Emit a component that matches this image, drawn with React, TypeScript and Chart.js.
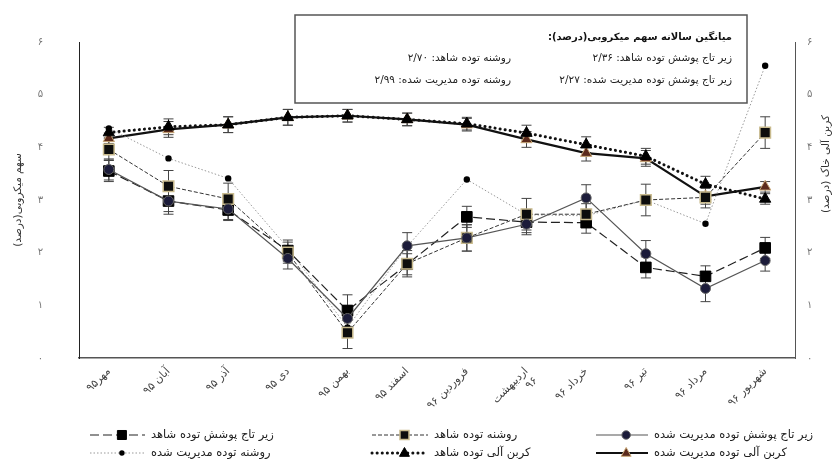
import React, { useEffect, useRef } from "react";
import { Chart, registerables } from "chart.js";

Chart.register(...registerables);

const FONT = '"DejaVu Sans", sans-serif';

const months = [
  "مهر۹۵",
  "آبان ۹۵",
  "آذر ۹۵",
  "دی ۹۵",
  "بهمن ۹۵",
  "اسفند ۹۵",
  "فروردین ۹۶",
  ["اردیبهشت", "۹۶"],
  "خرداد ۹۶",
  "تیر ۹۶",
  "مرداد ۹۶",
  "شهریور ۹۶",
];

const managedCanopy = [3.58, 2.98, 2.83, 1.89, 0.75, 2.13, 2.28, 2.54, 3.04, 1.98, 1.32, 1.85];
const controlGap = [3.96, 3.26, 3.02, 2.0, 0.48, 1.79, 2.28, 2.73, 2.73, 3.0, 3.05, 4.28];
const controlCanopy = [3.55, 2.98, 2.81, 2.04, 0.9, 1.78, 2.68, 2.58, 2.57, 1.72, 1.55, 2.09];
const managedGap = [4.36, 3.79, 3.41, 2.09, 0.58, 2.12, 3.39, 2.72, 2.7, 3.0, 2.55, 5.55];
const controlCarbon = [4.28, 4.39, 4.43, 4.57, 4.6, 4.53, 4.45, 4.27, 4.05, 3.83, 3.3, 3.02];
const managedCarbon = [4.17, 4.34, 4.43, 4.57, 4.6, 4.53, 4.43, 4.15, 3.89, 3.79, 3.07, 3.25];

const errManagedCanopy = [0.2, 0.25, 0.2, 0.2, 0.25, 0.25, 0.25, 0.2, 0.25, 0.25, 0.25, 0.2];
const errControlGap = [0.2, 0.3, 0.3, 0.2, 0.3, 0.25, 0.25, 0.3, 0.2, 0.3, 0.2, 0.3];
const errControlCanopy = [0.2, 0.2, 0.2, 0.2, 0.3, 0.2, 0.2, 0.2, 0.2, 0.2, 0.2, 0.2];
const errCarbon = [0.1, 0.15, 0.15, 0.15, 0.12, 0.12, 0.12, 0.15, 0.15, 0.15, 0.15, 0.1];

const seriesNames = [
  "زیر تاج پوشش توده مدیریت شده",
  "روشنه توده شاهد",
  "زیر تاج پوشش توده شاهد",
  "روشنه توده مدیریت شده",
  "کربن آلی توده شاهد",
  "کربن آلی توده مدیریت شده",
];

const leftAxisTitle = "سهم میکروبی(درصد)";
const rightAxisTitle = "کربن آلی خاک (درصد)";

const boxTitle = "میانگین سالانه سهم میکروبی(درصد):";
const boxRightCol = ["زیر تاج پوشش توده شاهد: ۲/۳۶", "زیر تاج پوشش توده مدیریت شده: ۲/۲۷"];
const boxLeftCol = ["روشنه توده شاهد: ۲/۷۰", "روشنه توده مدیریت شده: ۲/۹۹"];

const faDigits = (v: number | string) =>
  String(v).replace(/\d/g, (d) => "۰۱۲۳۴۵۶۷۸۹"[Number(d)]);

function drawMarker(ctx: CanvasRenderingContext2D, style: string, x: number, y: number, r: number, fill: string, stroke: string, lw: number) {
  ctx.save();
  ctx.setLineDash([]);
  ctx.fillStyle = fill;
  ctx.strokeStyle = stroke;
  ctx.lineWidth = lw;
  ctx.beginPath();
  if (style === "circle") {
    ctx.arc(x, y, r, 0, Math.PI * 2);
  } else if (style === "rect") {
    const s = r * Math.SQRT1_2;
    ctx.rect(x - s, y - s, 2 * s, 2 * s);
  } else if (style === "triangle") {
    ctx.moveTo(x, y - r);
    ctx.lineTo(x + r * 0.9, y + r * 0.6);
    ctx.lineTo(x - r * 0.9, y + r * 0.6);
    ctx.closePath();
  }
  ctx.fill();
  if (lw > 0) ctx.stroke();
  ctx.restore();
}

const errorBarsPlugin = {
  id: "errorBars",
  beforeDatasetsDraw(chart: any) {
    const ctx = chart.ctx;
    chart.data.datasets.forEach((ds: any, i: number) => {
      if (!ds.errors) return;
      const meta = chart.getDatasetMeta(i);
      const yScale = chart.scales[ds.yAxisID];
      ctx.save();
      ctx.strokeStyle = "#444";
      ctx.lineWidth = 1;
      ctx.setLineDash([]);
      meta.data.forEach((pt: any, j: number) => {
        const v = ds.data[j];
        const e = ds.errors[j];
        const x = pt.x;
        const yt = yScale.getPixelForValue(v + e);
        const yb = yScale.getPixelForValue(v - e);
        ctx.beginPath();
        ctx.moveTo(x, yt);
        ctx.lineTo(x, yb);
        ctx.moveTo(x - 5, yt);
        ctx.lineTo(x + 5, yt);
        ctx.moveTo(x - 5, yb);
        ctx.lineTo(x + 5, yb);
        ctx.stroke();
      });
      ctx.restore();
    });
  },
};

const decorPlugin = {
  id: "decor",
  afterDraw(chart: any) {
    const ctx: CanvasRenderingContext2D = chart.ctx;
    const ca = chart.chartArea;
    ctx.save();
    // axis titles
    ctx.fillStyle = "#333";
    ctx.font = `10.5px ${FONT}`;
    ctx.textAlign = "center";
    ctx.textBaseline = "middle";
    (ctx as any).direction = "rtl";
    ctx.save();
    ctx.translate(18, (ca.top + ca.bottom) / 2);
    ctx.rotate(-Math.PI / 2);
    ctx.fillText(leftAxisTitle, 0, 0);
    ctx.restore();
    ctx.save();
    ctx.translate(826, 164);
    ctx.rotate(-Math.PI / 2);
    ctx.fillText(rightAxisTitle, 0, 0);
    ctx.restore();

    // annotation box
    ctx.fillStyle = "#fff";
    ctx.fillRect(295, 15, 452, 88);
    ctx.strokeStyle = "#555";
    ctx.lineWidth = 1.5;
    ctx.setLineDash([]);
    ctx.strokeRect(295, 15, 452, 88);
    ctx.fillStyle = "#111";
    ctx.textAlign = "right";
    ctx.font = `bold 10px ${FONT}`;
    ctx.fillText(boxTitle, 732, 37);
    ctx.font = `10.5px ${FONT}`;
    ctx.fillStyle = "#222";
    ctx.fillText(boxRightCol[0], 732, 58);
    ctx.fillText(boxRightCol[1], 732, 80);
    ctx.fillText(boxLeftCol[0], 511, 58);
    ctx.fillText(boxLeftCol[1], 511, 80);

    // legend
    const entries = [
      { ds: 2, x0: 90, x1: 145, y: 435 },
      { ds: 1, x0: 372, x1: 428, y: 435 },
      { ds: 0, x0: 596, x1: 648, y: 435 },
      { ds: 3, x0: 90, x1: 145, y: 453 },
      { ds: 4, x0: 372, x1: 428, y: 453 },
      { ds: 5, x0: 596, x1: 648, y: 453 },
    ];
    entries.forEach((en) => {
      const d: any = chart.data.datasets[en.ds];
      ctx.save();
      ctx.strokeStyle = d.borderColor;
      ctx.lineWidth = d.borderWidth;
      ctx.lineCap = d.borderCapStyle || "butt";
      ctx.setLineDash(d.borderDash || []);
      ctx.beginPath();
      ctx.moveTo(en.x0, en.y);
      ctx.lineTo(en.x1, en.y);
      ctx.stroke();
      ctx.restore();
      const mx = en.x0 + (en.x1 - en.x0) * 0.58;
      drawMarker(ctx, d.pointStyle, mx, en.y, d.pointRadius * 0.85, d.pointBackgroundColor, d.pointBorderColor, d.pointBorderWidth);
      ctx.fillStyle = "#222";
      ctx.font = `11.5px ${FONT}`;
      ctx.textAlign = "left";
      ctx.fillText(d.label, en.x1 + 6, en.y);
    });
    ctx.restore();
  },
};

export default function App() {
  const ref = useRef<HTMLCanvasElement | null>(null);
  useEffect(() => {
    document.body.style.margin = "0";
    if (!ref.current) return;
    const yTick = {
      stepSize: 1,
      color: "#777",
      font: { family: FONT, size: 10 },
      callback: (v: any) => faDigits(v),
    };
    const chart = new Chart(ref.current, {
      type: "line",
      data: {
        labels: months as any,
        datasets: [
          {
            label: seriesNames[0],
            data: managedCanopy,
            errors: errManagedCanopy,
            yAxisID: "y",
            borderColor: "#555",
            borderWidth: 1.2,
            pointStyle: "circle",
            pointRadius: 5,
            pointBackgroundColor: "#1c1c3a",
            pointBorderColor: "#666",
            pointBorderWidth: 1,
          },
          {
            label: seriesNames[1],
            data: controlGap,
            errors: errControlGap,
            yAxisID: "y",
            borderColor: "#333",
            borderWidth: 1,
            borderDash: [4, 2],
            pointStyle: "rect",
            pointRadius: 7.5,
            pointBackgroundColor: "#0d0d0d",
            pointBorderColor: "#c9bb8e",
            pointBorderWidth: 1.5,
          },
          {
            label: seriesNames[2],
            data: controlCanopy,
            errors: errControlCanopy,
            yAxisID: "y",
            borderColor: "#222",
            borderWidth: 1.2,
            borderDash: [9, 4],
            pointStyle: "rect",
            pointRadius: 7.5,
            pointBackgroundColor: "#000",
            pointBorderColor: "#000",
            pointBorderWidth: 1,
          },
          {
            label: seriesNames[3],
            data: managedGap,
            yAxisID: "y",
            borderColor: "#999",
            borderWidth: 1,
            borderDash: [1.5, 2],
            pointStyle: "circle",
            pointRadius: 3.2,
            pointBackgroundColor: "#000",
            pointBorderColor: "#000",
            pointBorderWidth: 0,
          },
          {
            label: seriesNames[4],
            data: controlCarbon,
            errors: errCarbon,
            yAxisID: "y1",
            borderColor: "#111",
            borderWidth: 3,
            borderDash: [0.1, 5],
            borderCapStyle: "round",
            pointStyle: "triangle",
            pointRadius: 6.5,
            pointBackgroundColor: "#000",
            pointBorderColor: "#000",
            pointBorderWidth: 1,
          },
          {
            label: seriesNames[5],
            data: managedCarbon,
            errors: errCarbon,
            yAxisID: "y1",
            borderColor: "#111",
            borderWidth: 2.2,
            pointStyle: "triangle",
            pointRadius: 6.5,
            pointBackgroundColor: "#5b2a1c",
            pointBorderColor: "#c9a878",
            pointBorderWidth: 1,
          },
        ] as any,
      },
      options: {
        animation: false,
        responsive: true,
        maintainAspectRatio: false,
        layout: { padding: { top: 40, left: 0, right: 0, bottom: 0 } },
        elements: { line: { tension: 0, fill: false } },
        plugins: { legend: { display: false }, tooltip: { enabled: false } },
        scales: {
          x: {
            offset: true,
            grid: { display: true, drawOnChartArea: false, drawTicks: false, color: "rgba(0,0,0,0)" },
            border: { display: true, color: "#555", width: 1.5 },
            ticks: {
              minRotation: 45,
              maxRotation: 45,
              color: "#444",
              padding: 7,
              font: { family: FONT, size: 11 },
            },
            afterFit: (s: any) => {
              s.height = 110;
            },
          },
          y: {
            position: "left",
            min: 0,
            max: 6,
            grid: { display: true, drawOnChartArea: false, drawTicks: false, color: "rgba(0,0,0,0)" },
            border: { display: true, color: "#222", width: 1 },
            ticks: { ...yTick, padding: 36 },
            afterFit: (s: any) => {
              s.width = 79;
            },
          },
          y1: {
            position: "right",
            min: 0,
            max: 6,
            grid: { display: true, drawOnChartArea: false, drawTicks: false, color: "rgba(0,0,0,0)" },
            border: { display: true, color: "#555", width: 1 },
            ticks: { ...yTick, padding: 12 },
            afterFit: (s: any) => {
              s.width = 44;
            },
          },
        },
      } as any,
      plugins: [errorBarsPlugin, decorPlugin],
    });
    return () => chart.destroy();
  }, []);
  return (
    <div style={{ position: "fixed", left: 0, top: 0, width: 839, height: 468, background: "#fff" }}>
      <canvas ref={ref} />
    </div>
  );
}
